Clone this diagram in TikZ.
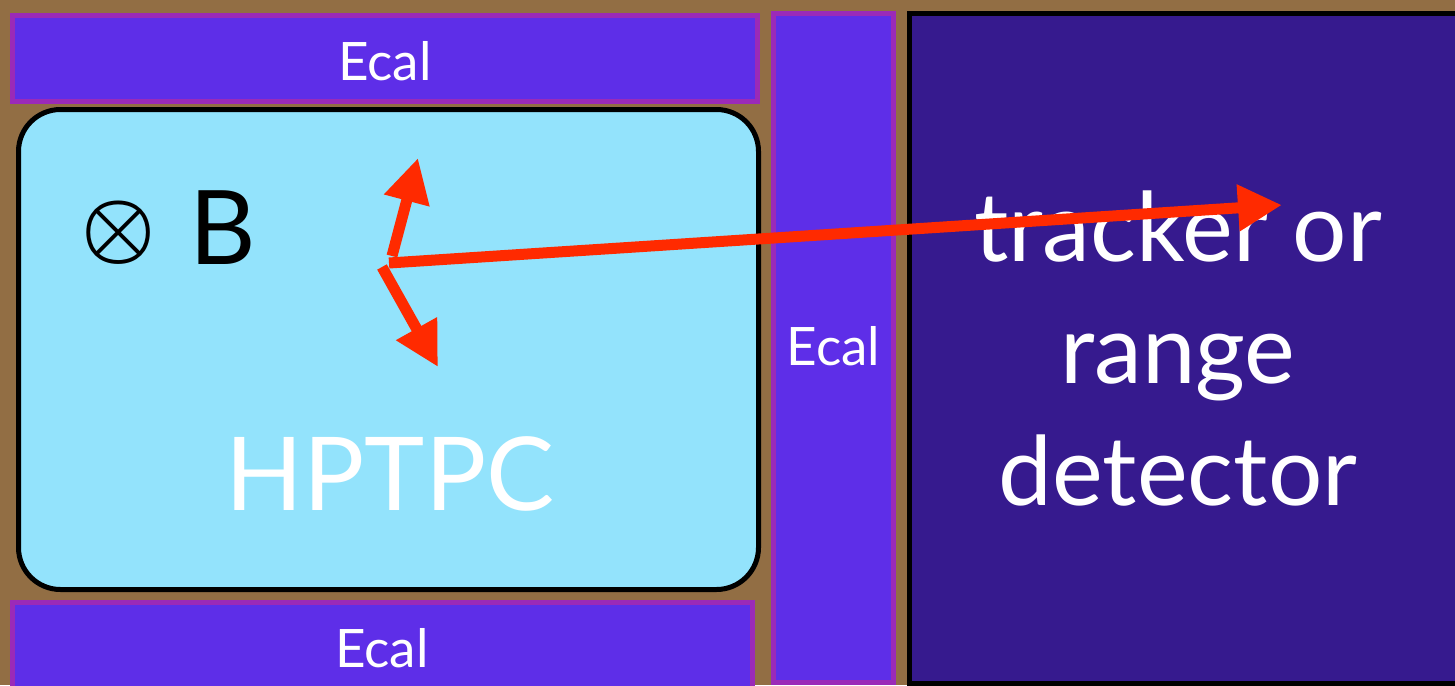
\documentclass[tikz,border=0pt]{standalone}
\usepackage{fontspec}
\setmainfont{Lato}
\usetikzlibrary{arrows.meta}
\definecolor{wood}{RGB}{146,110,68}
\definecolor{ecalfill}{RGB}{94,46,232}
\definecolor{ecaledge}{RGB}{155,42,184}
\definecolor{trkfill}{RGB}{54,26,142}
\definecolor{tpcfill}{RGB}{147,227,252}
\definecolor{track}{RGB}{255,42,0}
\begin{document}
\begin{tikzpicture}[x=1pt,y=-1pt,
  ecal/.style={draw=ecaledge, fill=ecalfill, line width=5pt},
  lab/.style={text=white, inner sep=0pt, anchor=base},
  trk/.style={draw=track, line width=11pt, -{Triangle[length=44pt,width=44pt]}},
]
\useasboundingbox (0,0) rectangle (1455,685);
\clip (0,0) rectangle (1455,685);
\fill[wood] (0,0) rectangle (1455,685);
% boxes
\draw[ecal] (12.5,15.5) rectangle (757.5,101.5);
\draw[ecal] (773.5,13.5) rectangle (893.5,682.5);
\draw[ecal] (12.5,602.5) rectangle (752.5,700);
\draw[draw=black, fill=trkfill, line width=5pt] (909.5,13.5) rectangle (1470,683.5);
\draw[draw=black, fill=tpcfill, line width=5pt, rounded corners=42pt] (18.5,109.5) rectangle (758.5,589.5);
% labels
\node[lab] (ecaltop) at (385,80) {\fontsize{53}{53}\selectfont Ecal};
\node[lab] (ecalside) at (833.5,365) {\fontsize{53}{53}\selectfont Ecal};
\node[lab] (ecalbot) at (382,667) {\fontsize{53}{53}\selectfont Ecal};
\node[lab] (hptpc) at (390,510) {\fontsize{102}{102}\selectfont HPTPC};
\node[text=white, inner sep=0pt, align=center, font=\fontsize{96}{122}\selectfont] (tracker) at (1178,349) {tracker or\\range\\detector};
\node[inner sep=0pt, anchor=base west] (bfield) at (81,264) {\raisebox{11pt}{\scalebox{8.3}{\boldmath$\otimes$}}\hspace{34pt}\fontsize{103}{103}\selectfont B};
% tracks
\coordinate (v1) at (392,256); \coordinate (t1) at (418,158);
\coordinate (v2) at (389,263); \coordinate (t2) at (1282,205);
\coordinate (v3) at (382,267); \coordinate (t3) at (438,367);
\draw[trk] (v1) -- (t1);
\draw[trk] (v2) -- (t2);
\draw[trk] (v3) -- (t3);
\end{tikzpicture}
\end{document}
